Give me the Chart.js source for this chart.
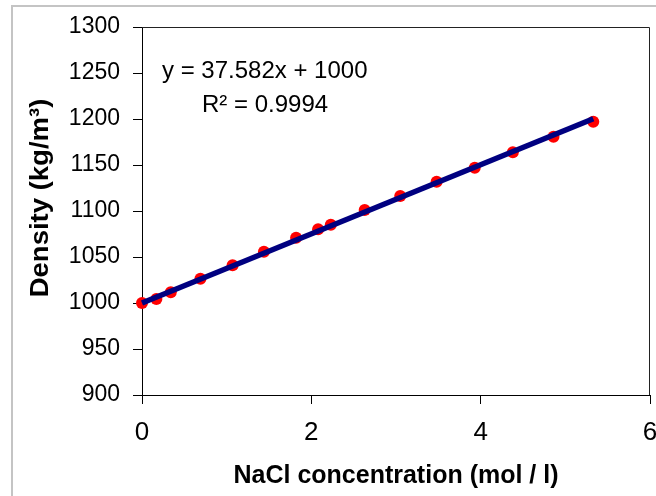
<!DOCTYPE html>
<html><head><meta charset="utf-8">
<script src="https://cdn.jsdelivr.net/npm/chart.js@4/dist/chart.umd.min.js"></script>
<style>html,body{margin:0;padding:0;background:#fff;}#wrap{width:656px;height:496px;position:relative;}</style>
</head><body><div id="wrap"><canvas id="c" width="656" height="496"></canvas></div>
<script>
// ---- data ----
const concentration = [0, 0.17, 0.34, 0.69, 1.07, 1.44, 1.82, 2.08, 2.23, 2.63, 3.05, 3.48, 3.93, 4.38, 4.86, 5.33];
const density = [1000, 1004.3, 1011.6, 1026.4, 1041, 1055.8, 1071, 1080.1, 1085.1, 1101, 1116.3, 1131.8, 1147, 1163.8, 1180.8, 1197];
const trendX = [0, 5.33];
const trendY = [1000, 1200.3];
const xTicks = [0, 2, 4, 6];
const yTicks = [900, 950, 1000, 1050, 1100, 1150, 1200, 1250, 1300];
const equationText = 'y = 37.582x + 1000';
const r2Text = 'R² = 0.9994';
const xTitle = 'NaCl concentration (mol / l)';
const yTitle = 'Density (kg/m³)';

const FONT = '"Liberation Sans", Arial, sans-serif';
Chart.defaults.font.family = FONT;
Chart.defaults.color = '#000';

const decor = {
  id: 'decor',
  beforeDraw(chart) {
    const ctx = chart.ctx;
    ctx.save();
    ctx.fillStyle = '#fff';
    ctx.fillRect(0, 0, chart.width, chart.height);
    ctx.strokeStyle = '#c4c4c4';
    ctx.lineWidth = 2;
    ctx.beginPath();
    ctx.moveTo(12, chart.height);
    ctx.lineTo(12, 6);
    ctx.lineTo(chart.width, 6);
    ctx.stroke();
    ctx.restore();
  },
  beforeDatasetsDraw(chart) {
    const {ctx, chartArea: a} = chart;
    ctx.save();
    ctx.strokeStyle = '#222';
    ctx.lineWidth = 1;
    ctx.beginPath();
    ctx.moveTo(a.left, a.top + 0.5);
    ctx.lineTo(a.right - 0.5, a.top + 0.5);
    ctx.lineTo(a.right - 0.5, a.bottom);
    ctx.stroke();
    ctx.restore();
  },
  afterDraw(chart) {
    const {ctx, chartArea: a} = chart;
    ctx.save();
    ctx.fillStyle = '#000';
    ctx.textAlign = 'left';
    ctx.textBaseline = 'middle';
    ctx.font = '24px ' + FONT;
    ctx.fillText(equationText, a.left + 20, a.top + 44);
    ctx.fillText(r2Text, a.left + 60, a.top + 78);
    // y-axis title
    ctx.translate(48, (a.top + a.bottom) / 2 - 13);
    ctx.rotate(-Math.PI / 2);
    ctx.textAlign = 'center';
    ctx.textBaseline = 'alphabetic';
    ctx.font = 'bold 25px ' + FONT;
    ctx.scale(1.1, 1);
    ctx.fillText(yTitle, 0, 0);
    ctx.restore();
  }
};

new Chart(document.getElementById('c'), {
  type: 'scatter',
  data: {
    datasets: [
      {
        label: 'trend',
        data: trendX.map((x, i) => ({x, y: trendY[i]})),
        showLine: true,
        borderColor: '#000080',
        borderWidth: 5.5,
        pointRadius: 0,
        fill: false,
        clip: false
      },
      {
        label: 'density',
        data: concentration.map((x, i) => ({x, y: density[i]})),
        backgroundColor: '#ff0000',
        borderColor: '#ff0000',
        borderWidth: 0,
        pointRadius: 6,
        clip: false
      }
    ]
  },
  options: {
    responsive: false,
    devicePixelRatio: 1,
    animation: false,
    layout: {padding: {left: 0, right: 5, top: 27, bottom: 0}},
    plugins: {legend: {display: false}, tooltip: {enabled: false}},
    scales: {
      x: {
        type: 'linear', min: 0, max: 6,
        afterBuildTicks: s => { s.ticks = xTicks.map(v => ({value: v})); },
        afterFit: s => { s.height = 101; s.paddingLeft = 0; s.paddingRight = 0; },
        grid: {drawOnChartArea: false, drawTicks: true, tickLength: 9, color: '#000', lineWidth: 1},
        border: {display: true, color: '#000', width: 1},
        ticks: {font: {size: 26}, color: '#000', padding: 13, maxRotation: 0, autoSkip: false, callback: v => String(v)},
        title: {display: true, text: xTitle, font: {size: 25, weight: 'bold'}, color: '#000', padding: {top: 0, bottom: 5}}
      },
      y: {
        type: 'linear', min: 900, max: 1300,
        afterBuildTicks: s => { s.ticks = yTicks.map(v => ({value: v})); },
        afterFit: s => { s.width = 142; s.paddingTop = 0; s.paddingBottom = 0; },
        grid: {drawOnChartArea: false, drawTicks: true, tickLength: 9, color: '#000', lineWidth: 1},
        border: {display: true, color: '#000', width: 1},
        ticks: {font: {size: 23}, color: '#000', padding: 13, autoSkip: false, callback: v => String(v)}
      }
    }
  },
  plugins: [decor]
});
</script></body></html>
